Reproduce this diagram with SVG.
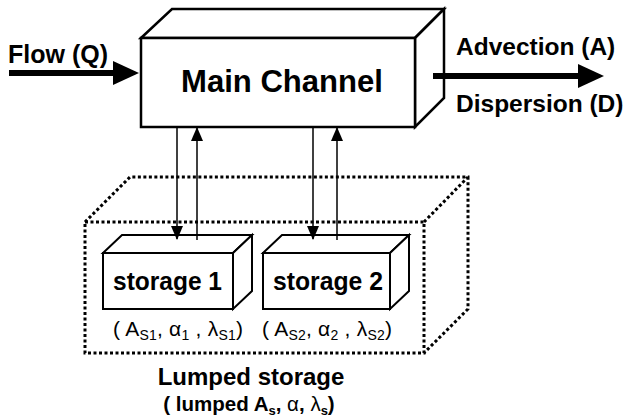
<svg xmlns="http://www.w3.org/2000/svg" width="626" height="419" viewBox="0 0 626 419">
<style>
.box{fill:#fff;stroke:#000;stroke-width:2.5;stroke-linejoin:miter}
.sbox{fill:#fff;stroke:#000;stroke-width:2;stroke-linejoin:miter}
.dot{fill:none;stroke:#000;stroke-width:3;stroke-dasharray:3 2.5}
.thick{stroke:#000;stroke-width:6;fill:none}
.thin{stroke:#000;stroke-width:1.5;fill:none}
text{font-family:"Liberation Sans",Arial,Helvetica,sans-serif;fill:#000}
.b{font-weight:bold}
.p{font-size:21px}
.sub{font-size:14px}
</style>
<defs>
<marker id="big" markerUnits="userSpaceOnUse" markerWidth="26" markerHeight="24" refX="7" refY="12" orient="auto">
<path d="M0,0 L26,12 L0,24 z" fill="#000"/>
</marker>
<marker id="small" markerUnits="userSpaceOnUse" markerWidth="14" markerHeight="12" refX="13" refY="6" orient="auto">
<path d="M0,0 L14,6 L0,12 z" fill="#000"/>
</marker>
</defs>

<g id="lumped-storage">
<path class="dot" d="M85,222 L130,177 L468,177 L468,309 L424,353 M424,222 L468,177"/>
<rect class="dot" x="85" y="222" width="339" height="131"/>
<text class="b" x="251" y="385" font-size="24" text-anchor="middle">Lumped storage</text>
<text class="b" x="249" y="411" font-size="20.5" text-anchor="middle">( lumped A<tspan font-size="13" dy="4">s</tspan><tspan dy="-4">, </tspan><tspan font-weight="normal">α</tspan>, <tspan font-weight="normal">λ</tspan><tspan font-size="13" dy="4">s</tspan><tspan dy="-4">)</tspan></text>
</g>

<g id="main-channel">
<polygon class="box" points="141,38 172,9 444,9 415,38"/>
<polygon class="box" points="415,38 444,9 444,98 415,127"/>
<rect class="box" x="141" y="38" width="274" height="89"/>
<text class="b" x="181" y="92" font-size="31" textLength="202" lengthAdjust="spacingAndGlyphs">Main Channel</text>
</g>

<g id="storage-1">
<polygon class="sbox" points="103,253 122,235 252,235 233,253"/>
<polygon class="sbox" points="233,253 252,235 252,291 233,309"/>
<rect class="sbox" x="103" y="253" width="130" height="56"/>
<text class="b" x="113" y="290" font-size="25" textLength="109" lengthAdjust="spacingAndGlyphs">storage 1</text>
<text class="p" x="113" y="336" textLength="130" lengthAdjust="spacing">( A<tspan class="sub" dy="4">S1</tspan><tspan dy="-4">, α</tspan><tspan class="sub" dy="4">1</tspan><tspan dy="-4"> , λ</tspan><tspan class="sub" dy="4">S1</tspan><tspan dy="-4">)</tspan></text>
</g>

<g id="storage-2">
<polygon class="sbox" points="263,253 282,235 409,235 390,253"/>
<polygon class="sbox" points="390,253 409,235 409,291 390,309"/>
<rect class="sbox" x="263" y="253" width="127" height="56"/>
<text class="b" x="273" y="290" font-size="25" textLength="110" lengthAdjust="spacingAndGlyphs">storage 2</text>
<text class="p" x="262" y="336" textLength="130" lengthAdjust="spacing">( A<tspan class="sub" dy="4">S2</tspan><tspan dy="-4">, α</tspan><tspan class="sub" dy="4">2</tspan><tspan dy="-4"> , λ</tspan><tspan class="sub" dy="4">S2</tspan><tspan dy="-4">)</tspan></text>
</g>

<g id="connectors">
<line class="thick" x1="9" y1="73" x2="120" y2="73" marker-end="url(#big)"/>
<text class="b" x="8" y="63" font-size="25">Flow (Q)</text>
<line class="thick" x1="433" y1="76" x2="585" y2="76" marker-end="url(#big)"/>
<text class="b" x="456" y="55" font-size="24.5">Advection (A)</text>
<text class="b" x="456" y="112" font-size="24.5">Dispersion (D)</text>
<line class="thin" x1="177" y1="127" x2="177" y2="239" marker-end="url(#small)"/>
<line class="thin" x1="197" y1="240" x2="197" y2="128" marker-end="url(#small)"/>
<line class="thin" x1="313" y1="127" x2="313" y2="239" marker-end="url(#small)"/>
<line class="thin" x1="337" y1="240" x2="337" y2="128" marker-end="url(#small)"/>
</g>
</svg>
